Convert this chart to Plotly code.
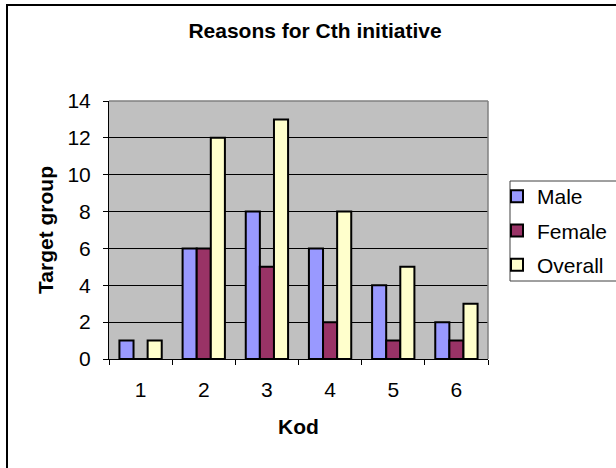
import plotly.graph_objects as go

categories = ["1", "2", "3", "4", "5", "6"]
male = [1, 6, 8, 6, 4, 2]
female = [0, 6, 5, 2, 1, 1]
overall = [1, 12, 13, 8, 5, 3]
series_names = ["Male", "Female", "Overall"]
series_colors = ["#9999FF", "#993366", "#FFFFCC"]
y_ticks = [0, 2, 4, 6, 8, 10, 12, 14]

FONT = "Liberation Sans, Arial, sans-serif"
W, H = 616, 468
L, R, T, B = 109, 488, 101, 359

def px_x(p):
    return (p - L) / (R - L)

def px_y(p):
    return (B - p) / (B - T)

fig = go.Figure()
for name, vals, col in zip(series_names, [male, female, overall], series_colors):
    fig.add_trace(go.Bar(
        x=categories, y=vals, name=name, legendgroup=name,
        marker=dict(color=col, line=dict(color="black", width=2)),
    ))

fig.update_layout(
    width=W, height=H,
    margin=dict(l=L, r=W - R, t=T, b=H - B, autoexpand=False),
    paper_bgcolor="white",
    plot_bgcolor="#C0C0C0",
    barmode="group",
    bargap=0.33,
    bargroupgap=0,
    font=dict(family=FONT, size=21, color="black"),
    title=dict(
        text="<b>Reasons for Cth initiative</b>",
        x=315 / W, xanchor="center",
        y=1 - 31 / H, yanchor="middle",
        font=dict(family=FONT, size=21, color="black"),
    ),
    legend=dict(
        x=px_x(497), xanchor="left",
        y=px_y(176), yanchor="top",
        bgcolor="rgba(0,0,0,0)",
        borderwidth=0,
        font=dict(family=FONT, size=21, color="black"),
        itemsizing="constant",
        tracegroupgap=4,
    ),
    xaxis=dict(
        type="category",
        tickson="boundaries",
        ticks="outside", ticklen=5, tickcolor="black", tickwidth=1,
        showline=True, linecolor="black", linewidth=1,
        showgrid=False,
        ticklabelstandoff=12,
        title=dict(text="<b>Kod</b>", standoff=19,
                   font=dict(family=FONT, size=21, color="black")),
    ),
    yaxis=dict(
        range=[0, 14],
        tickvals=y_ticks,
        ticks="outside", ticklen=5, tickcolor="black", tickwidth=1,
        showline=True, linecolor="black", linewidth=1,
        showgrid=True, gridcolor="black", gridwidth=1,
        zeroline=False,
        ticklabelstandoff=8,
        title=dict(text="<b>Target group</b>", standoff=8,
                   font=dict(family=FONT, size=21, color="black")),
    ),
    shapes=[
        dict(type="line", xref="paper", yref="paper", x0=0, x1=1, y0=1, y1=1,
             line=dict(color="#808080", width=1.5)),
        dict(type="line", xref="paper", yref="paper", x0=1, x1=1, y0=0, y1=1,
             line=dict(color="#808080", width=1.5)),
        dict(type="rect", xref="paper", yref="paper",
             x0=px_x(510), x1=px_x(660), y0=px_y(281), y1=px_y(181),
             line=dict(color="#404040", width=1), fillcolor="white", layer="below"),
        dict(type="rect", xref="paper", yref="paper",
             x0=px_x(7), x1=px_x(640), y0=px_y(500), y1=px_y(5),
             line=dict(color="black", width=2), fillcolor="rgba(0,0,0,0)"),
    ],
)

fig.write_html(
    "out.html",
    config={"displayModeBar": False},
    post_script="document.body.style.margin='0px';document.body.style.overflow='hidden';",
)
